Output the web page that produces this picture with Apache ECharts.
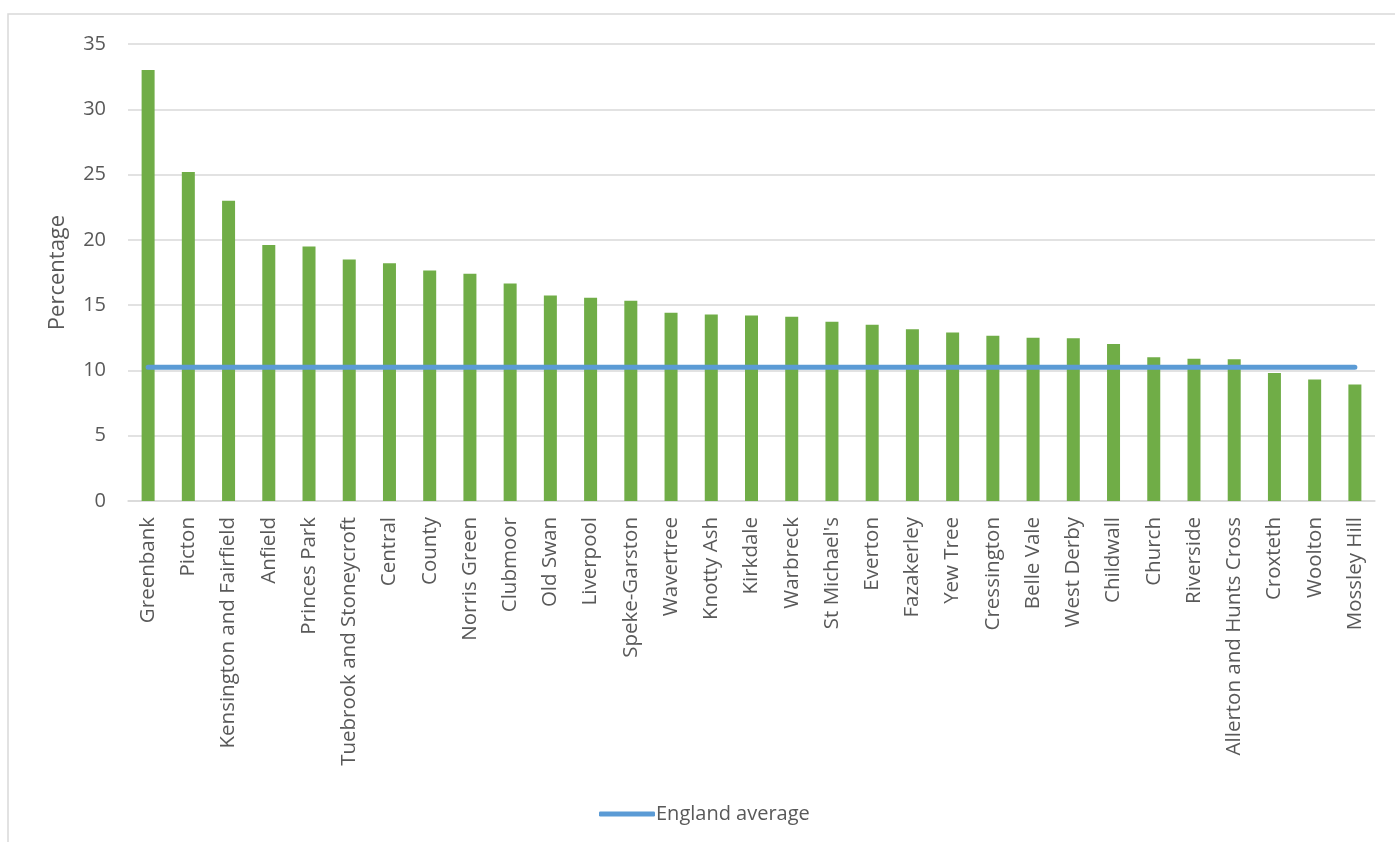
<!DOCTYPE html>
<html>
<head>
<meta charset="utf-8">
<script src="https://cdn.jsdelivr.net/npm/echarts@6/dist/echarts.min.js"></script>
<style>
html,body{margin:0;padding:0;background:#fff;}
#chart{width:1395px;height:842px;}
</style>
</head>
<body>
<div id="chart"></div>
<script>
const categories = ["Greenbank","Picton","Kensington and Fairfield","Anfield","Princes Park","Tuebrook and Stoneycroft","Central","County","Norris Green","Clubmoor","Old Swan","Liverpool","Speke-Garston","Wavertree","Knotty Ash","Kirkdale","Warbreck","St Michael's","Everton","Fazakerley","Yew Tree","Cressington","Belle Vale","West Derby","Childwall","Church","Riverside","Allerton and Hunts Cross","Croxteth","Woolton","Mossley Hill"];
const wardValues = [33.0,25.2,23.0,19.6,19.5,18.5,18.2,17.65,17.4,16.66,15.74,15.56,15.33,14.42,14.29,14.21,14.11,13.73,13.5,13.16,12.91,12.66,12.51,12.46,12.02,11.0,10.9,10.85,9.81,9.3,8.92];
const englandAverage = categories.map(() => 10.24);
const yTicks = [0,5,10,15,20,25,30,35];

const chart = echarts.init(document.getElementById('chart'));
const txt = '#595959';
const font = '"Open Sans", sans-serif';
chart.setOption({
  animation: false,
  backgroundColor: '#fff',
  textStyle: {fontFamily: font},
  graphic: [{
    type: 'rect', silent: true,
    shape: {x: 8, y: 14, width: 1400, height: 900},
    style: {fill: 'none', stroke: '#d9d9d9', lineWidth: 1.5}
  }],
  grid: {left: 128, right: 20, top: 44, bottom: 341, containLabel: false},
  legend: {
    data: [{name: 'England average', icon: 'roundRect'}],
    left: 594, top: 799,
    itemWidth: 56, itemHeight: 5, itemGap: 10,
    textStyle: {color: txt, fontSize: 20, fontFamily: font, padding: [0,0,0,-4]}
  },
  xAxis: {
    type: 'category',
    data: categories,
    axisLine: {show: true, lineStyle: {color: '#d9d9d9', width: 1.5}},
    axisTick: {show: false},
    axisLabel: {rotate: 90, color: txt, fontSize: 20.5, fontFamily: font, margin: 16, interval: 0}
  },
  yAxis: {
    type: 'value', min: yTicks[0], max: yTicks[yTicks.length-1], interval: 5,
    name: 'Percentage', nameLocation: 'middle', nameGap: 59, nameRotate: 90,
    nameTextStyle: {color: txt, fontSize: 22, fontFamily: font},
    axisLine: {show: false}, axisTick: {show: false},
    axisLabel: {color: txt, fontSize: 20, fontFamily: font, margin: 22},
    splitLine: {lineStyle: {color: '#d9d9d9', width: 1.5}}
  },
  series: [
    {
      name: 'Ward', type: 'bar', data: wardValues, barWidth: 13,
      itemStyle: {color: '#70AD47'}
    },
    {
      name: 'England average', type: 'line', data: englandAverage,
      symbol: 'none', z: 5,
      lineStyle: {color: '#5B9BD5', width: 5, cap: 'round'},
      itemStyle: {color: '#5B9BD5'}
    }
  ]
});
</script>
</body>
</html>
